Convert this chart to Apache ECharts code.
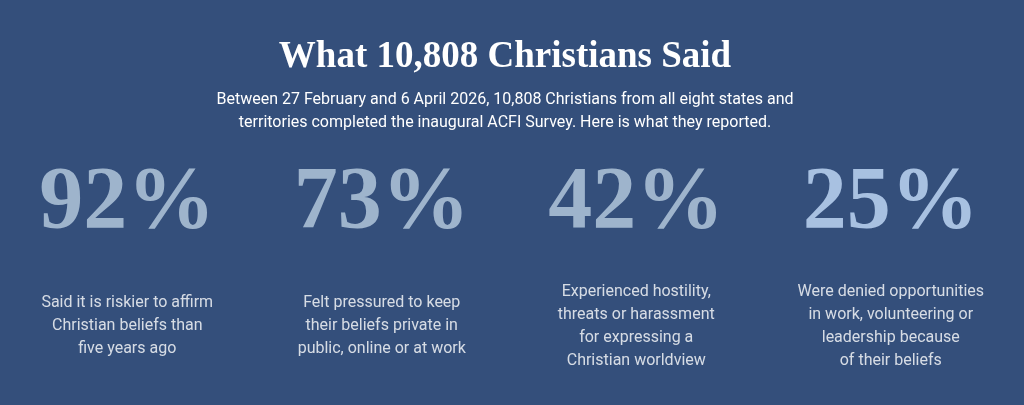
<!DOCTYPE html>
<html><head><meta charset="utf-8">
<script src="https://cdn.jsdelivr.net/npm/echarts@6/dist/echarts.min.js"></script>
<style>html,body{margin:0;padding:0;background:#344f7b}#c{width:1024px;height:405px}</style>
</head><body><div id="c"></div>
<script>
const categories = ['a','b','c','d'];
const percentages = [92, 73, 42, 25];
const descriptions = [
  'Said it is riskier to affirm\nChristian beliefs than\nfive years ago',
  'Felt pressured to keep\ntheir beliefs private in\npublic, online or at work',
  'Experienced hostility,\nthreats or harassment\nfor expressing a\nChristian worldview',
  'Were denied opportunities\nin work, volunteering or\nleadership because\nof their beliefs'
];
const numColors = ['#b9cde1','#b9cde1','#b9cde1','#c5ddfb'];
const chart = echarts.init(document.getElementById('c'));
chart.setOption({
  backgroundColor:'#344f7b',
  title:{text:'What 10,808 Christians Said',
    subtext:'Between 27 February and 6 April 2026, 10,808 Christians from all eight states and\nterritories completed the inaugural ACFI Survey. Here is what they reported.',
    left:500, textAlign:'center', top:34, itemGap:12,
    textStyle:{fontFamily:'Liberation Serif',fontWeight:'bold',fontSize:37,color:'#ffffff'},
    subtextStyle:{fontFamily:'Roboto',fontSize:16,color:'#ffffff',lineHeight:23,align:'center'}},
  grid:{left:0,right:6,top:0,bottom:0},
  xAxis:{type:'category',data:categories,show:false},
  yAxis:{type:'value',min:0,max:405,inverse:true,show:false},
  series:[
    {type:'scatter',symbolSize:0,silent:true,
     data:percentages.map((v,i)=>({value:[i,204],pct:v,label:{color:numColors[i]}})),
     label:{show:true,position:'inside',formatter:p=>p.data.pct+'%',
       fontFamily:'Liberation Serif',fontWeight:'bold',fontSize:88}},
    {type:'scatter',symbolSize:0,silent:true,
     data:descriptions.map((d,i)=>({value:[i,326],txt:d})),
     label:{show:true,position:'inside',formatter:p=>p.data.txt,
       fontFamily:'Roboto',fontSize:16,lineHeight:23,color:'#ffffff',align:'center'}}
  ]
});
</script></body></html>
